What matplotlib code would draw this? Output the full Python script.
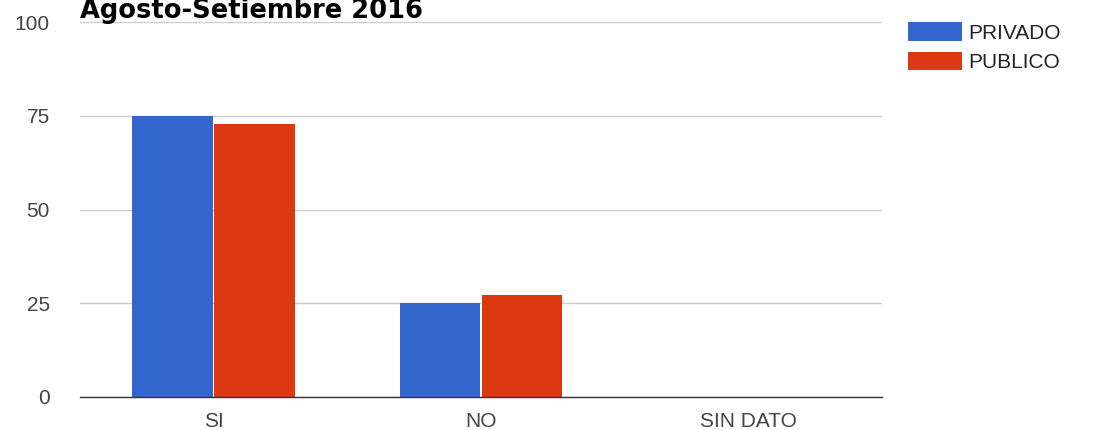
import matplotlib
matplotlib.use("Agg")
import matplotlib.pyplot as plt
import numpy as np
from matplotlib.patches import Patch

categories = ["SI", "NO", "SIN DATO"]
series_names = ["PRIVADO", "PUBLICO"]
privado = [75.0, 25.0, 0.0]
publico = [72.7, 27.3, 0.0]
yticks = [0, 25, 50, 75, 100]
title = "Agosto-Setiembre 2016"

colors = ["#3366cc", "#dc3912"]
plt.rcParams['font.family'] = ['Liberation Sans', 'DejaVu Sans']

W, H = 1094, 430
fig = plt.figure(figsize=(W / 100, H / 100), dpi=100)
left, right, top, bottom = 80, 882, 22, 397
ax = fig.add_axes([left / W, 1 - bottom / H, (right - left) / W, (bottom - top) / H])

x = np.arange(len(categories))
bw = 0.302
gap = 0.004
ax.bar(x - bw / 2 - gap / 2, privado, bw, color=colors[0], zorder=3)
ax.bar(x + bw / 2 + gap / 2, publico, bw, color=colors[1], zorder=3)

ax.set_xlim(-0.5, len(categories) - 0.5)
ax.set_ylim(0, 100)
ax.set_yticks(yticks)
ax.set_yticklabels([str(v) for v in yticks])
ax.set_xticks(x)
ax.set_xticklabels(categories)
px2pt = 0.72
ax.tick_params(axis='both', length=0, labelsize=15, labelcolor="#444444")
ax.tick_params(axis='y', pad=30 * px2pt)
ax.tick_params(axis='x', pad=15 * px2pt)

ax.grid(axis='y', color="#cccccc", linewidth=1, zorder=0)
for s in ["top", "right", "left"]:
    ax.spines[s].set_visible(False)
ax.spines["bottom"].set_color("#333333")
ax.spines["bottom"].set_linewidth(1)
ax.spines["bottom"].set_zorder(4)

fig.text(left / W, 1 - 18 / H, title, fontsize=18.5, fontweight='bold',
         family=['DejaVu Sans'], color="#000000", ha='left', va='baseline')

handles = [Patch(facecolor=c, edgecolor='none') for c in colors]
fs = 15
fpx = fs * 100 / 72
leg = fig.legend(handles, series_names, loc='upper left',
                 bbox_to_anchor=(908 / W, 1 - 22 / H), frameon=False,
                 fontsize=fs, handlelength=54 / fpx, handleheight=21 / fpx,
                 handletextpad=6 / fpx, labelspacing=(30 - fpx) / fpx,
                 borderpad=0, borderaxespad=0)
for t in leg.get_texts():
    t.set_color("#222222")

fig.savefig("out.png", dpi=100)
